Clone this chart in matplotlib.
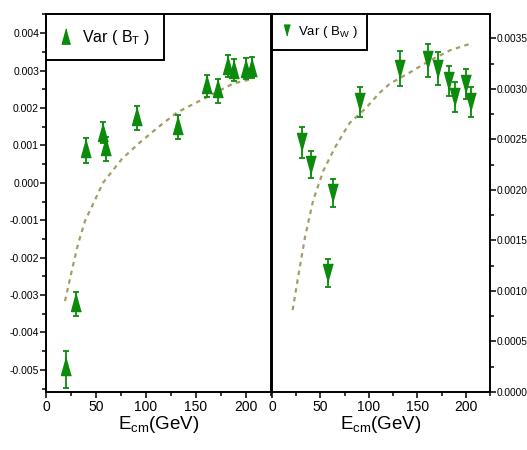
import matplotlib
matplotlib.use("Agg")
import matplotlib.pyplot as plt
from matplotlib.ticker import MultipleLocator, FormatStrFormatter

plt.rcParams['axes.unicode_minus'] = False
FONT = ['Liberation Sans', 'DejaVu Sans']
plt.rcParams['font.family'] = FONT
plt.rcParams['mathtext.fontset'] = 'custom'
plt.rcParams['mathtext.rm'] = 'Liberation Sans'
plt.rcParams['mathtext.it'] = 'Liberation Sans:italic'

# ---- data: Var(B_T) ----
bt_E = [20, 30, 40, 57, 60, 91, 132, 161, 172, 182, 188, 200, 206]
bt_v = [-0.0049, -0.00318, 0.00094, 0.00137, 0.00097, 0.00179, 0.00155,
        0.00263, 0.00252, 0.00314, 0.00303, 0.00306, 0.00309]
bt_err_lo = [0.00059, 0.00037, 0.00040, 0.00030, 0.00040, 0.00038, 0.00038,
             0.00034, 0.00038, 0.00030, 0.00030, 0.00030, 0.00030]
bt_err_hi = [0.00040, 0.00027, 0.00025, 0.00025, 0.00025, 0.00025, 0.00025,
             0.00025, 0.00025, 0.00027, 0.00027, 0.00027, 0.00027]
bt_fit_E = [19, 25.7, 32, 39, 47, 57, 76, 94, 112, 131, 164, 187, 204]
bt_fit_v = [-0.00316, -0.00236, -0.00164, -0.00102, -0.00057, 0.0, 0.00064,
            0.00108, 0.00148, 0.00188, 0.00233, 0.00265, 0.00276]

# ---- data: Var(B_W) ----
bw_E = [30.6, 40, 58, 63, 90.7, 132.6, 160.5, 171, 182.7, 188.7, 200, 205]
bw_v = [0.00247, 0.00225, 0.00118, 0.00197, 0.00287, 0.00320, 0.00328,
        0.00320, 0.00308, 0.00292, 0.00305, 0.00287]
bw_err = [0.00015, 0.00013, 0.00014, 0.00014, 0.00015, 0.00017, 0.00016,
          0.00016, 0.00015, 0.00015, 0.00015, 0.00015]
bw_fit_E = [21.3, 27, 34, 42.6, 53, 65, 80, 96, 111, 121.6, 142, 163, 183.5, 206]
bw_fit_v = [0.00081, 0.00114, 0.00153, 0.0019, 0.00219, 0.00242, 0.00266,
            0.0028, 0.00296, 0.00305, 0.00316, 0.00328, 0.00338, 0.00345]

x_ticks = [0, 50, 100, 150, 200]

GREEN = '#0b8a0b'
FITC = '#a39d66'
UP = [(0, 1), (-0.55, -1), (0.55, -1)]
DOWN = [(0, -1), (-0.55, 1), (0.55, 1)]

fig = plt.figure(figsize=(5.27, 4.5), dpi=100)
axL = fig.add_axes([46/527, 58/450, 225/527, 378/450])
axR = fig.add_axes([272/527, 58/450, 218/527, 378/450])

for ax in (axL, axR):
    for s in ax.spines.values():
        s.set_linewidth(1.4)
    ax.set_xlim(0, 225)
    ax.set_xticks(x_ticks)
    ax.xaxis.set_minor_locator(MultipleLocator(25))
    ax.tick_params(which='both', direction='out', width=1.1)
    ax.tick_params(which='major', length=4)
    ax.tick_params(which='minor', length=3)
    ax.tick_params(axis='x', labelsize=10, pad=2)
    ax.set_xlabel(r'$\mathrm{E}_{\mathrm{cm}}$(GeV)', fontsize=13.5, labelpad=0)

# Left panel
axL.plot(bt_fit_E, bt_fit_v, color=FITC, lw=1.6, dashes=(2, 2))
axL.errorbar(bt_E, bt_v, yerr=[bt_err_lo, bt_err_hi], fmt='none',
             ecolor=GREEN, elinewidth=1.3, capsize=2.5, capthick=1.3)
axL.plot(bt_E, bt_v, linestyle='none', marker=UP, markersize=13,
         color=GREEN, label=r'Var ( $\mathrm{B}_{\mathrm{T}}$ )')
axL.set_ylim(-0.00559, 0.00451)
axL.yaxis.set_major_locator(MultipleLocator(0.001))
axL.yaxis.set_minor_locator(MultipleLocator(0.0005))
axL.yaxis.set_major_formatter(FormatStrFormatter('%.3f'))
axL.tick_params(axis='y', labelsize=7.5, pad=1)
axL.tick_params(axis='y', which='both', right=False)

legL = axL.legend(loc='upper left', bbox_to_anchor=(0, 1), borderaxespad=0,
                  fancybox=False, edgecolor='black', framealpha=1,
                  fontsize=11.5, handlelength=0.8, handletextpad=0.6,
                  borderpad=0.85, markerscale=0.85)
legL.get_frame().set_linewidth(1.4)

# Right panel
axR.plot(bw_fit_E, bw_fit_v, color=FITC, lw=1.6, dashes=(2, 2))
axR.errorbar(bw_E, bw_v, yerr=bw_err, fmt='none',
             ecolor=GREEN, elinewidth=1.3, capsize=2.5, capthick=1.3)
axR.plot(bw_E, bw_v, linestyle='none', marker=DOWN, markersize=13,
         color=GREEN, label=r'Var ( $\mathrm{B}_{\mathrm{W}}$ )')
axR.set_ylim(0, 0.00374)
axR.yaxis.set_major_locator(MultipleLocator(0.0005))
axR.yaxis.set_minor_locator(MultipleLocator(0.00025))
axR.yaxis.set_major_formatter(FormatStrFormatter('%.4f'))
axR.yaxis.tick_right()
axR.tick_params(axis='y', which='both', left=False, labelsize=7.3, pad=1)

legR = axR.legend(loc='upper left', bbox_to_anchor=(0, 1), borderaxespad=0,
                  fancybox=False, edgecolor='black', framealpha=1,
                  fontsize=9.5, handlelength=0.7, handletextpad=0.5,
                  borderpad=0.75, markerscale=0.6)
legR.get_frame().set_linewidth(1.4)

fig.savefig('out.png', dpi=100)
